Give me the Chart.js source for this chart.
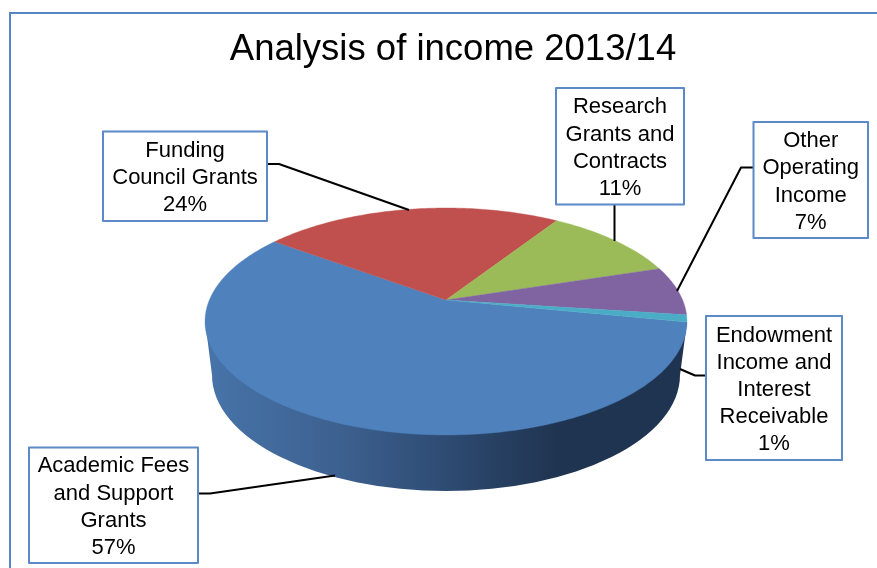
<!DOCTYPE html>
<html>
<head>
<meta charset="utf-8">
<title>Analysis of income 2013/14</title>
<script src="https://cdn.jsdelivr.net/npm/chart.js@4/dist/chart.umd.min.js"></script>
<style>
  html, body { margin: 0; padding: 0; background: #fff; }
  canvas { display: block; }
</style>
</head>
<body>
<canvas id="income" width="877" height="568"></canvas>
<script>
// Income shares, percent of total
const titleText = 'Analysis of income 2013/14';
const categoryLines = [
  ['Academic Fees', 'and Support', 'Grants'],
  ['Funding', 'Council Grants'],
  ['Research', 'Grants and', 'Contracts'],
  ['Other', 'Operating', 'Income'],
  ['Endowment', 'Income and', 'Interest', 'Receivable']
];
const shares = [57, 24, 11, 7, 1];
const sliceColors = ['#4f81bd', '#c0504d', '#9bbb59', '#8064a2', '#4bacc6'];

// Callout boxes [left, top, right, bottom] and their leader polylines
const calloutBoxes = [
  [29, 447.5, 198, 563],
  [103, 131.5, 267, 221],
  [556, 88, 684, 204.5],
  [753.5, 122, 868, 238],
  [706, 316, 842, 460]
];
const leaders = [
  [[198, 493.5], [210, 493.5], [335, 475.5]],
  [[267, 164], [279, 164], [409, 210]],
  [[614.5, 204.5], [614.5, 241]],
  [[753.5, 167.5], [741, 167.5], [677, 291]],
  [[706, 375.5], [695, 375.5], [680, 369]]
];

// Perspective used for the tilted disc: the pie's centre lands on the apex,
// and the far rim is compressed relative to the near rim.
const apex = { x: 446, y: 300 };
const persp = { k: 236.6, a: 52.6, c: -0.1894 };
function project(angle) {
  const u = Math.cos(angle), v = Math.sin(angle);
  const d = persp.c * v + 1;
  return [apex.x + persp.k * u / d, (persp.a * v + apex.y) / d];
}

// Lower rim of the extruded side
const base = { x: 446, y: 375, rx: 234, ry: 116 };
const rimLeft = [205.2, 322];
const rimRight = [687, 322];

const pie3d = {
  id: 'pie3d',
  beforeDraw(chart) {
    const ctx = chart.ctx;
    ctx.save();
    ctx.fillStyle = '#ffffff';
    ctx.fillRect(0, 0, chart.width, chart.height);
    // Frame around the chart: only the top and left edges fall inside the page
    ctx.strokeStyle = '#5585c5';
    ctx.lineWidth = 2;
    ctx.beginPath();
    ctx.moveTo(10, 568);
    ctx.lineTo(10, 13);
    ctx.lineTo(877, 13);
    ctx.stroke();
    ctx.restore();
  },
  beforeDatasetsDraw(chart) {
    const ctx = chart.ctx;
    const arcs = chart.getDatasetMeta(0).data;
    ctx.save();

    // Side wall
    const wall = ctx.createLinearGradient(base.x - base.rx, 0, base.x + base.rx, 0);
    wall.addColorStop(0, '#4773a8');
    wall.addColorStop(0.27, '#3d6190');
    wall.addColorStop(0.5, '#2e4b72');
    wall.addColorStop(0.74, '#1f3450');
    wall.addColorStop(1, '#1f3450');
    ctx.fillStyle = wall;
    ctx.beginPath();
    ctx.moveTo(rimLeft[0], rimLeft[1]);
    ctx.lineTo(base.x - base.rx, base.y);
    ctx.ellipse(base.x, base.y, base.rx, base.ry, 0, Math.PI, 0, true);
    ctx.lineTo(rimRight[0], rimRight[1]);
    ctx.closePath();
    ctx.fill();

    // Top face, one wedge per arc element
    arcs.forEach((arc, i) => {
      const steps = Math.max(4, Math.ceil((arc.endAngle - arc.startAngle) * 60));
      ctx.beginPath();
      ctx.moveTo(apex.x, apex.y);
      for (let s = 0; s <= steps; s++) {
        const p = project(arc.startAngle + (arc.endAngle - arc.startAngle) * s / steps);
        ctx.lineTo(p[0], p[1]);
      }
      ctx.closePath();
      ctx.fillStyle = sliceColors[i];
      ctx.strokeStyle = sliceColors[i];
      ctx.lineWidth = 0.4;
      ctx.fill();
      ctx.stroke();
    });
    ctx.restore();
    return false;
  },
  afterDraw(chart) {
    const ctx = chart.ctx;
    ctx.save();

    // Leader lines
    ctx.strokeStyle = '#000000';
    ctx.lineWidth = 2;
    ctx.lineJoin = 'round';
    leaders.forEach(points => {
      ctx.beginPath();
      points.forEach((p, i) => i ? ctx.lineTo(p[0], p[1]) : ctx.moveTo(p[0], p[1]));
      ctx.stroke();
    });

    // Callouts with category name and share
    ctx.font = '22px "Liberation Sans"';
    ctx.textAlign = 'center';
    ctx.textBaseline = 'alphabetic';
    calloutBoxes.forEach((b, i) => {
      ctx.fillStyle = '#ffffff';
      ctx.fillRect(b[0], b[1], b[2] - b[0], b[3] - b[1]);
      ctx.strokeStyle = '#5b8ac6';
      ctx.lineWidth = 2;
      ctx.strokeRect(b[0], b[1], b[2] - b[0], b[3] - b[1]);
      const lines = categoryLines[i].concat(shares[i] + '%');
      const lineGap = 27.2;
      const cx = (b[0] + b[2]) / 2;
      const first = (b[1] + b[3]) / 2 - lineGap * (lines.length - 1) / 2 + 8;
      ctx.fillStyle = '#000000';
      lines.forEach((text, n) => ctx.fillText(text, cx, first + n * lineGap));
    });
    ctx.restore();
  }
};

new Chart(document.getElementById('income'), {
  type: 'pie',
  data: {
    labels: categoryLines.map(l => l.join(' ')),
    datasets: [{ data: shares, backgroundColor: sliceColors, borderWidth: 0 }]
  },
  options: {
    responsive: false,
    animation: false,
    rotation: 101.2,
    layout: { padding: { left: 29 } },
    plugins: {
      legend: { display: false },
      tooltip: { enabled: false },
      title: {
        display: true,
        text: titleText,
        color: '#000000',
        font: { family: '"Liberation Sans"', size: 36.5, weight: 'normal' },
        padding: { top: 28, bottom: 0 }
      }
    }
  },
  plugins: [pie3d]
});
</script>
</body>
</html>
